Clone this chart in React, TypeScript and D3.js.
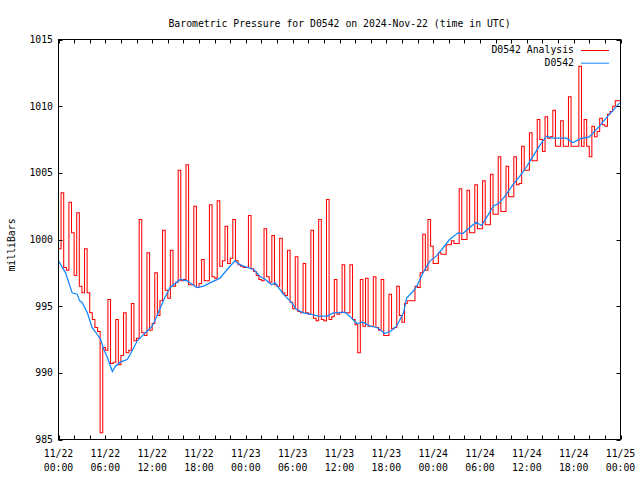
import React from "react";
import * as d3 from "d3";

const TITLE = "Barometric Pressure for D0542 on 2024-Nov-22 (time in UTC)";
const Y_LABEL = "milliBars";
const SERIES_NAMES = ["D0542 Analysis", "D0542"];
const Y_TICKS = [985, 990, 995, 1000, 1005, 1010, 1015];
const X_LABEL_HOURS = [0, 6, 12, 18, 24, 30, 36, 42, 48, 54, 60, 66, 72];
const X_LABEL_DATES = ["11/22", "11/22", "11/22", "11/22", "11/23", "11/23", "11/23", "11/23", "11/24", "11/24", "11/24", "11/24", "11/25"];
const X_LABEL_TIMES = ["00:00", "06:00", "12:00", "18:00", "00:00", "06:00", "12:00", "18:00", "00:00", "06:00", "12:00", "18:00", "00:00"];

// Analysis series: one value every 20 minutes starting 11/22 00:00
const ANALYSIS_STEP_HOURS = 1 / 3;
const ANALYSIS = [
  999.3, 1003.5, 997.9, 997.7, 1002.8, 1000.5, 997.3, 1002.0, 996.5, 996.0,
  999.3, 996.0, 994.5, 994.0, 993.4, 993.1, 985.5, 991.9, 991.7, 995.5,
  990.7, 990.8, 994.0, 990.6, 991.3, 994.5, 991.5, 991.7, 995.2, 992.4,
  992.6, 1001.5, 993.0, 992.8, 999.0, 993.2, 993.7, 997.5, 994.3, 995.4,
  1000.7, 996.2, 995.6, 999.2, 996.5, 996.8, 1005.2, 996.9, 997.0, 1005.6,
  996.6, 996.6, 1002.5, 996.4, 996.7, 998.5, 996.9, 996.9, 1002.6, 997.2,
  997.1, 1002.9, 998.0, 998.4, 1001.0, 998.2, 998.6, 1001.5, 998.4, 998.1,
  998.0, 997.9, 997.9, 1001.8, 997.8, 997.6, 997.3, 997.0, 996.9, 1000.8,
  997.2, 996.8, 1000.3, 996.6, 996.5, 1000.1, 996.0, 995.8, 999.2, 995.3,
  994.8, 998.7, 994.6, 994.5, 998.2, 994.5, 994.4, 1000.7, 994.1, 993.9,
  1001.5, 994.0, 993.9, 1003.0, 994.0, 994.2, 997.0, 994.4, 994.5, 998.1,
  994.5, 994.5, 998.1, 994.0, 993.6, 991.5, 997.0, 993.5, 997.1, 993.5,
  993.5, 997.2, 993.4, 993.2, 997.0, 992.8, 992.8, 995.9, 993.3, 993.4,
  996.5, 994.3, 993.8, 995.2, 995.4, 995.4, 995.4, 996.5, 996.4, 997.5,
  1000.4, 997.7, 1001.5, 999.5, 998.2, 998.2, 999.0, 998.9, 998.9, 999.6,
  999.6, 999.9, 999.7, 999.7, 1003.8, 1000.0, 1000.0, 1003.7, 1000.5, 1000.5,
  1004.1, 1000.8, 1000.8, 1004.4, 1001.1, 1001.1, 1004.9, 1001.9, 1001.9, 1006.2,
  1002.1, 1002.1, 1005.5, 1003.2, 1003.2, 1006.2, 1004.1, 1004.2, 1007.0, 1005.2,
  1005.2, 1008.0, 1005.9, 1005.9, 1009.0, 1007.5, 1006.6, 1009.2, 1007.6, 1007.7,
  1009.7, 1007.0, 1007.0, 1008.9, 1007.0, 1007.0, 1010.7, 1007.0, 1007.0, 1007.0,
  1013.0, 1007.0, 1009.0, 1007.0, 1006.2, 1008.5, 1007.7, 1008.1, 1009.1, 1008.6,
  1008.5, 1009.4, 1009.6, 1010.0, 1010.4, 1010.4, 1010.0,
];

// Observed series: hours since 11/22 00:00 and pressure
const OBS_HOURS = [
  0, 0.9, 1.75, 2.4, 2.7, 3.0, 3.7, 4.3, 4.7, 5.4, 5.8, 6.2, 6.9, 7.3, 7.9, 8.8, 9.2,
  10.1, 10.7, 11.3, 12.0, 12.6, 13.5, 14.3, 15.6, 16.5, 17.7, 18.6, 19.4, 20.7, 21.6,
  22.6, 23.3, 23.7, 25.0, 25.8, 26.5, 27.3, 27.75, 28.8, 29.9, 30.5, 31.4, 32.2, 33.3,
  34.4, 35.2, 36.7, 37.3, 38.2, 39.0, 39.9, 40.8, 41.8, 42.5, 43.3, 44.2, 44.6, 45.4,
  45.9, 46.7, 47.6, 48.4, 49.3, 50.1, 51.2, 51.8, 52.7, 53.5, 54.2, 54.8, 55.7, 56.5,
  57.4, 58.2, 59.1, 59.9, 60.8, 61.6, 62.5, 63.3, 65.1, 65.9, 66.8, 68.0, 69.3, 70.6, 71.9,
];
const OBS_VALUES = [
  998.4, 997.5, 996.0, 995.9, 995.4, 995.3, 994.5, 993.4, 993.1, 992.5, 991.75, 991.25, 990.1, 990.5, 990.8, 991.0, 991.4,
  992.4, 992.75, 993.1, 993.5, 994.25, 995.5, 996.4, 997.0, 996.9, 996.4, 996.5, 996.75, 997.1, 997.75,
  998.4, 998.1, 998.0, 997.75, 997.25, 997.0, 996.6, 996.75, 995.9, 995.25, 994.75, 994.5, 994.4, 994.25,
  994.25, 994.5, 994.55, 994.25, 993.7, 993.8, 993.5, 993.4, 992.95, 993.1, 993.5, 994.5, 995.6, 996.1,
  996.5, 997.5, 998.4, 998.75, 999.4, 1000.0, 1000.5, 1000.45, 1000.9, 1001.3, 1001.05, 1001.6, 1002.5, 1002.75,
  1003.4, 1004.1, 1004.75, 1005.4, 1006.25, 1007.0, 1007.75, 1007.6, 1007.6, 1007.25, 1007.55, 1007.7, 1008.5, 1009.4, 1010.25,
];

const W = 640;
const H = 480;
const M = { left: 58.5, right: 620.5, top: 39.5, bottom: 439.5 };
const FONT = "'DejaVu Sans Mono', 'Liberation Mono', monospace";
const FS = 9.8;
const RED = "#ff0000";
const BLUE = "#1085ff";

export default function App() {
  const x = d3.scaleLinear().domain([0, 72]).range([M.left, M.right]);
  const y = d3.scaleLinear().domain([985, 1015]).range([M.bottom, M.top]);

  const analysisPts: [number, number][] = ANALYSIS.map((v, i) => [i * ANALYSIS_STEP_HOURS, v]);
  const obsPts: [number, number][] = OBS_HOURS.map((h, i) => [h, OBS_VALUES[i]]);

  const stepLine = d3
    .line<[number, number]>()
    .x((d) => x(d[0]))
    .y((d) => y(d[1]))
    .curve(d3.curveStepAfter);
  const line = d3
    .line<[number, number]>()
    .x((d) => x(d[0]))
    .y((d) => y(d[1]));

  const minorTicks = d3.range(0, 73, 2);
  const tickLen = 4;

  return (
    <svg width={W} height={H} style={{ display: "block", position: "absolute", left: 0, top: 0, background: "#fff" }}>
      <rect x={0} y={0} width={W} height={H} fill="#fff" />
      <text x={(M.left + M.right) / 2} y={27} textAnchor="middle" fontFamily={FONT} fontSize={FS} fill="#000">
        {TITLE}
      </text>

      <clipPath id="plotclip">
        <rect x={M.left} y={M.top} width={M.right - M.left} height={M.bottom - M.top} />
      </clipPath>

      <g clipPath="url(#plotclip)">
        <path d={stepLine(analysisPts) || ""} fill="none" stroke={RED} strokeWidth={1.05} />
        <path d={line(obsPts) || ""} fill="none" stroke={BLUE} strokeWidth={1.25} />
      </g>

      {/* x ticks */}
      {minorTicks.map((h) => (
        <g key={"xt" + h}>
          <line x1={Math.round(x(h)) + 0.5} x2={Math.round(x(h)) + 0.5} y1={M.bottom} y2={M.bottom - tickLen} stroke="#000" />
          <line x1={Math.round(x(h)) + 0.5} x2={Math.round(x(h)) + 0.5} y1={M.top} y2={M.top + tickLen} stroke="#000" />
        </g>
      ))}
      {X_LABEL_HOURS.map((h, i) => (
        <g key={"xl" + h}>
          <text x={x(h)} y={457} textAnchor="middle" fontFamily={FONT} fontSize={FS} fill="#000">
            {X_LABEL_DATES[i]}
          </text>
          <text x={x(h)} y={471} textAnchor="middle" fontFamily={FONT} fontSize={FS} fill="#000">
            {X_LABEL_TIMES[i]}
          </text>
        </g>
      ))}

      {/* y ticks */}
      {Y_TICKS.map((v) => (
        <g key={"yt" + v}>
          <line x1={M.left} x2={M.left + tickLen} y1={Math.round(y(v)) + 0.5} y2={Math.round(y(v)) + 0.5} stroke="#000" />
          <line x1={M.right} x2={M.right - tickLen} y1={Math.round(y(v)) + 0.5} y2={Math.round(y(v)) + 0.5} stroke="#000" />
          <text x={53} y={y(v)} dy="0.35em" textAnchor="end" fontFamily={FONT} fontSize={FS} fill="#000">
            {v}
          </text>
        </g>
      ))}

      <text
        transform={`translate(12, ${245}) rotate(-90)`}
        textAnchor="middle"
        dy="0.35em"
        fontFamily={FONT}
        fontSize={FS}
        fill="#000"
      >
        {Y_LABEL}
      </text>

      {/* legend */}
      {SERIES_NAMES.map((name, i) => (
        <g key={name}>
          <text x={574} y={50 + i * 12.7} dy="0.35em" textAnchor="end" fontFamily={FONT} fontSize={FS} fill="#000">
            {name}
          </text>
          <line x1={581} x2={609} y1={50.5 + i * 12.7} y2={50.5 + i * 12.7} stroke={i === 0 ? RED : BLUE} strokeWidth={1} />
        </g>
      ))}

      <rect x={M.left} y={M.top} width={M.right - M.left} height={M.bottom - M.top} fill="none" stroke="#000" strokeWidth={1} />
    </svg>
  );
}
